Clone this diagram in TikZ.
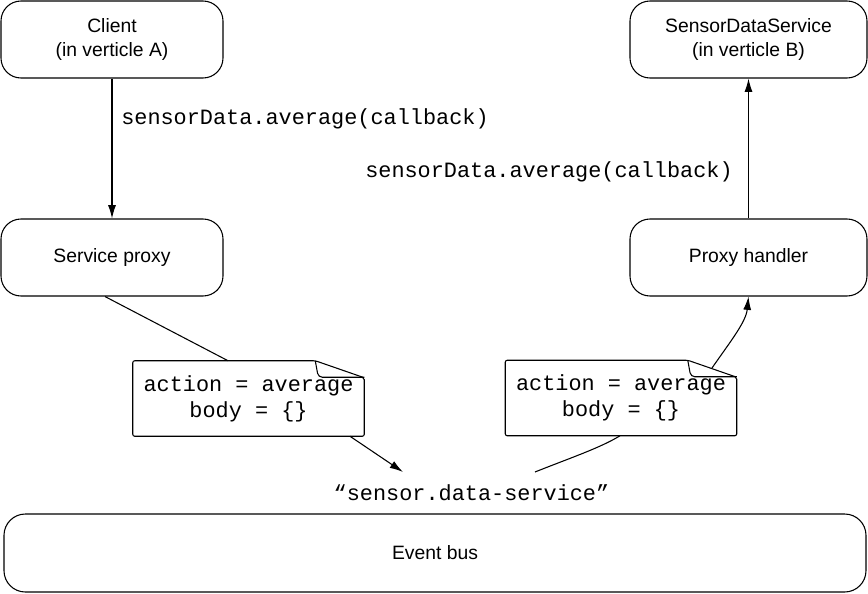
\documentclass[tikz,border=0pt]{standalone}
\usepackage{fontspec}
\setmainfont{Liberation Sans}
\newfontfamily\monofont{Liberation Mono}
\usetikzlibrary{arrows.meta,calc}
\begin{document}
\begin{tikzpicture}[x=0.75pt,y=-0.75pt,
  box/.style={draw, line width=0.8pt, rounded corners=15pt, align=center,
    font=\fontsize{14.5}{18}\selectfont, inner sep=0pt},
  mono/.style={font=\monofont\fontsize{16.4}{19.5}\selectfont, inner sep=0pt},
  note/.style={mono, align=center, minimum width=173.25pt, minimum height=56.25pt},
  arr/.style={-{Latex[length=10pt,width=6pt]}, line width=0.8pt},
  con/.style={line width=0.8pt}]
\useasboundingbox (0,0) rectangle (868,593);
% boxes
\node[box, minimum width=166.5pt, minimum height=57.75pt] (client) at (112,39.5) {Client\\(in verticle A)};
\node[box, minimum width=166.5pt, minimum height=57.75pt] (sproxy) at (112,257.5) {Service proxy};
\node[box, minimum width=177.75pt, minimum height=57.75pt] (sds) at (748.5,39.5) {SensorDataService\\(in verticle B)};
\node[box, minimum width=177.75pt, minimum height=57.75pt] (phandler) at (748.5,257.5) {Proxy handler};
\node[box, minimum width=646.5pt, minimum height=58.5pt, rounded corners=16pt] (bus) at (435,553) {Event bus};
% labels
\node[mono, anchor=west] (lbl1) at (121,119) {sensorData.average(callback)};
\node[mono, anchor=west] (lbl2) at (365,172) {sensorData.average(callback)};
\node[mono] (topic) at (471.5,493) {“sensor.data-service”};
% notes
\node[note] (n1) at (248.5,398.5) {action = average\\body = \{\}};
\node[note] (n2) at (621,398) {action = average\\body = \{\}};
\foreach \n in {n1,n2}{
  \draw[con, rounded corners=1.5pt] (\n.south west) -- (\n.north west) -- ($(\n.north east)+(-49,0)$)
     -- ($(\n.north east)+(0,17)$) -- (\n.south east) -- cycle;
  \draw[con, rounded corners=3pt] ($(\n.north east)+(-49,0)$) -- ($(\n.north east)+(-46,16.5)$) -- ($(\n.north east)+(0,16.5)$);
}
% connectors
\coordinate (e1) at (403,472);
\coordinate (s2) at (535,472);
\coordinate (f2) at (712,368);
\draw[arr] (client.south) -- (sproxy.north);
\draw[arr] (phandler.north) -- (sds.south);
\draw[con] (sproxy.south -| 105,0) -- (n1.north -| 228,0);
\draw[arr] (n1.south -| 350,0) -- (e1);
\draw[con] (s2) .. controls (570,458) and (600,448) .. (n2.south -| 620,0);
\draw[arr] (f2) .. controls (730,342) and (746,322) .. (phandler.south);
\end{tikzpicture}
\end{document}
